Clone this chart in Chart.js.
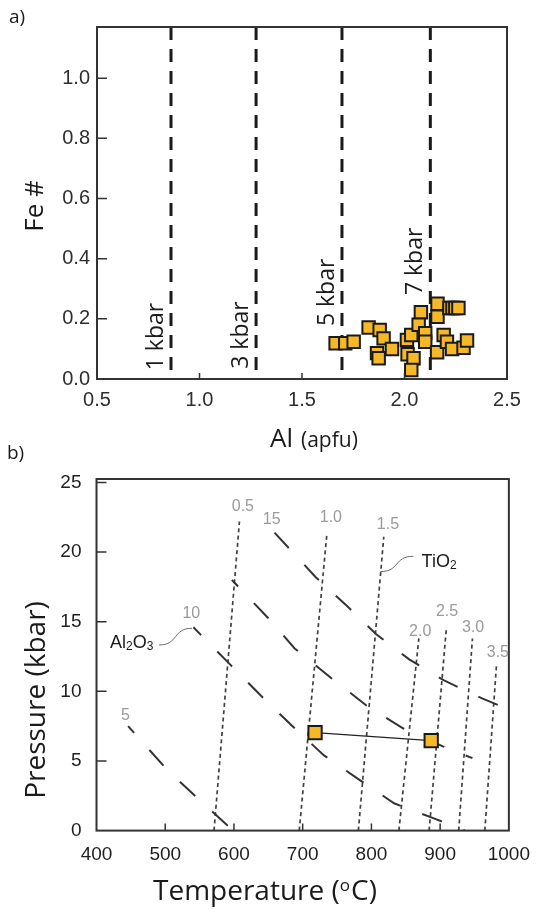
<!DOCTYPE html>
<html>
<head>
<meta charset="utf-8">
<title>Amphibole Al - Fe# and P-T estimates</title>
<script src="https://cdn.jsdelivr.net/npm/chart.js@4.4.1/dist/chart.umd.min.js"></script>
<style>
    html, body { margin: 0; padding: 0; background: #fff; }
    #wrap { position: relative; width: 543px; height: 909px; }
    #wrap canvas { position: absolute; left: 0; top: 0; }
</style>
</head>
<body>
<div id="wrap">
    <canvas id="chartA" width="543" height="909"></canvas>
    <canvas id="chartB" width="543" height="909"></canvas>
</div>
<script>
// ========== data ==========

// a) amphibole analyses: Al (apfu) vs Fe#
const AL_APFU = [1.664, 1.711, 1.752, 1.825, 1.879, 1.898, 1.866, 1.874, 1.939, 2.012,
                 2.033, 2.015, 2.044, 2.033, 2.080, 2.069, 2.101, 2.101, 2.161, 2.161,
                 2.219, 2.234, 2.248, 2.263, 2.159, 2.191, 2.207, 2.232, 2.288, 2.305];
const FE_NUM = [0.119, 0.119, 0.124, 0.171, 0.163, 0.135, 0.086, 0.069, 0.100, 0.130,
                0.146, 0.082, 0.069, 0.030, 0.222, 0.180, 0.152, 0.124, 0.250, 0.207,
                0.236, 0.236, 0.236, 0.236, 0.089, 0.146, 0.124, 0.100, 0.104, 0.128];

// isobars (Al-in-hornblende)
const KBAR_AL = [0.861, 1.276, 1.695, 2.126];
const KBAR_LABELS = ['1 kbar', '3 kbar', '5 kbar', '7 kbar'];
const KBAR_LABEL_FE = [0.141, 0.146, 0.288, 0.391];

const AL_TICKS = [0.5, 1.0, 1.5, 2.0, 2.5];
const FE_TICKS = [0, 0.2, 0.4, 0.6, 0.8, 1.0];
const FE_MAX = 1.17;

// b) P-T grid
const TEMP_TICKS = [400, 500, 600, 700, 800, 900, 1000];
const PRES_TICKS = [0, 5, 10, 15, 20, 25];
const PRES_MAX = 25.25;

// TiO2 isopleths (wt%), straight from P = 0 to their upper end
const TIO2_LABELS = ['0.5', '1.0', '1.5', '2.0', '2.5', '3.0', '3.5'];
const TIO2_T_BASE = [571, 695, 781, 840, 884, 927, 965];
const TIO2_T_TOP = [608, 735, 818, 869, 909, 947, 982];
const TIO2_P_TOP = [22.2, 21.2, 21.1, 13.8, 14.5, 13.8, 11.9];
const TIO2_LABEL_T = [613, 741, 824, 871, 910, 948, 984];
const TIO2_LABEL_P = [23.3, 22.5, 22.0, 14.3, 15.7, 14.6, 12.8];

// Al2O3 isopleths (wt%)
const AL2O3_5_T = [446, 503, 555, 599];
const AL2O3_5_P = [7.5, 4.35, 1.96, 0];
const AL2O3_10_T = [541, 595, 639, 683, 731, 781, 833, 891, 936];
const AL2O3_10_P = [14.6, 11.9, 9.7, 7.6, 5.4, 3.7, 1.96, 0.88, 0];
const AL2O3_12_T = [597, 650, 688, 743, 795, 846, 904, 947];
const AL2O3_12_P = [18.0, 15.25, 13.1, 10.9, 8.9, 7.35, 6.05, 5.2];
const AL2O3_15_T = [659, 719, 763, 807, 855, 905, 961, 1000];
const AL2O3_15_P = [21.4, 18.2, 16.2, 14.1, 12.3, 10.8, 9.5, 8.7];
const AL2O3_LABELS = ['5', '10', '15'];
const AL2O3_LABEL_T = [442, 538, 655];
const AL2O3_LABEL_P = [8.25, 15.6, 22.3];

// estimated crystallisation conditions
const PT_T = [718, 887];
const PT_P = [7.03, 6.46];

// ========== styles ==========
const TICK_FONT = "'Liberation Sans', Arial, sans-serif";
const TITLE_FONT = "'Open Sans', 'Noto Sans', sans-serif";
const SQUARE_FILL = '#F6B825';
const INK = '#1a1a1a';

const pts = (xs, ys) => xs.map((v, i) => ({ x: v, y: ys[i] }));

// box round the plot + short ticks pointing inwards
function frameTicks(xLen, yLen) {
    return {
        id: 'frameTicks',
        afterDatasetsDraw(chart) {
            const { ctx, chartArea: { left, top, right, bottom }, scales: { x, y } } = chart;
            ctx.save();
            ctx.strokeStyle = '#333';
            ctx.lineWidth = 1.5;
            ctx.beginPath();
            x.ticks.forEach(t => {
                const px = x.getPixelForValue(t.value);
                if (px <= left + 1 || px >= right - 1) return;
                ctx.moveTo(px, bottom);
                ctx.lineTo(px, bottom - xLen);
            });
            y.ticks.forEach(t => {
                const py = y.getPixelForValue(t.value);
                if (py <= top + 1 || py >= bottom - 1) return;
                ctx.moveTo(left, py);
                ctx.lineTo(left + yLen, py);
            });
            ctx.stroke();
            ctx.lineWidth = 2;
            ctx.strokeRect(left, top, right - left, bottom - top);
            ctx.restore();
        }
    };
}

function scaleOpts(min, max, tickValues, fmt, font, color, padding, fit) {
    return {
        type: 'linear',
        min: min,
        max: max,
        afterBuildTicks: s => { s.ticks = tickValues.map(value => ({ value })); },
        afterFit: fit,
        grid: { display: false, drawTicks: false },
        border: { display: false },
        ticks: {
            padding: padding,
            autoSkip: false,
            maxRotation: 0,
            color: color,
            font: { family: TICK_FONT, size: font },
            callback: fmt
        }
    };
}

// ========== a) Al vs Fe# ==========
const panelAText = {
    id: 'panelAText',
    afterDraw(chart) {
        const { ctx, scales: { x, y } } = chart;
        ctx.save();
        ctx.fillStyle = INK;
        ctx.textBaseline = 'middle';

        ctx.font = '19px ' + TITLE_FONT;
        ctx.textAlign = 'left';
        ctx.fillText('a)', 9, 18);

        // isobar names, written upwards beside each line
        ctx.font = '23px ' + TITLE_FONT;
        ctx.textAlign = 'center';
        KBAR_AL.forEach((v, i) => {
            ctx.save();
            ctx.translate(x.getPixelForValue(v) - 15, y.getPixelForValue(KBAR_LABEL_FE[i]));
            ctx.rotate(-Math.PI / 2);
            ctx.fillText(KBAR_LABELS[i], 0, 0);
            ctx.restore();
        });

        // y title
        ctx.save();
        ctx.font = '26px ' + TITLE_FONT;
        ctx.translate(36, 206);
        ctx.rotate(-Math.PI / 2);
        ctx.fillText('Fe #', 0, 0);
        ctx.restore();

        // x title: big element symbol, smaller unit
        ctx.textBaseline = 'alphabetic';
        ctx.font = '26px ' + TITLE_FONT;
        ctx.textAlign = 'right';
        ctx.fillText('Al', 293, 447);
        ctx.font = '21px ' + TITLE_FONT;
        ctx.textAlign = 'left';
        ctx.fillText('(apfu)', 301, 447);
        ctx.restore();
    }
};

const isobarSets = KBAR_AL.map(v => ({
    type: 'line',
    data: [{ x: v, y: FE_MAX }, { x: v, y: 0 }],
    showLine: true,
    borderColor: '#1a1a1a',
    borderWidth: 3,
    borderDash: [13, 9],
    pointRadius: 0,
    order: 2
}));

new Chart(document.getElementById('chartA'), {
    type: 'scatter',
    data: {
        datasets: [{
            data: pts(AL_APFU, FE_NUM),
            pointStyle: 'rect',
            pointRadius: 8.8,
            pointBackgroundColor: SQUARE_FILL,
            pointBorderColor: '#1a1a1a',
            pointBorderWidth: 2,
            order: 0
        }, ...isobarSets]
    },
    options: {
        responsive: false,
        devicePixelRatio: 1,
        animation: false,
        events: [],
        layout: { padding: { top: 27, right: 36, bottom: 909 - 379 - 40, left: 0 } },
        scales: {
            x: scaleOpts(0.5, 2.5, AL_TICKS, v => v.toFixed(1), 20, '#2e2e2e', 9, s => { s.height = 40; }),
            y: scaleOpts(0, FE_MAX, FE_TICKS, v => v.toFixed(1), 20, '#2e2e2e', 7, s => { s.width = 97; })
        },
        plugins: { legend: { display: false }, tooltip: { enabled: false } }
    },
    plugins: [frameTicks(6, 10), panelAText]
});

// ========== b) P-T ==========
function drawFormula(ctx, parts, x, midY) {
    const base = midY + 18 * 0.36;
    let cx = x;
    parts.forEach(([txt, sub]) => {
        ctx.font = (sub ? '12px ' : '18px ') + TICK_FONT;
        ctx.fillText(txt, cx, sub ? base + 2 : base);
        cx += ctx.measureText(txt).width;
    });
}

function leader(ctx, x0, y0, x1, y1) {
    const dx = x1 - x0;
    ctx.beginPath();
    ctx.moveTo(x0, y0);
    ctx.bezierCurveTo(x0 + dx * 0.6, y0, x0 + dx * 0.4, y1, x1, y1);
    ctx.stroke();
}

const panelBText = {
    id: 'panelBText',
    afterDraw(chart) {
        const { ctx, scales: { x, y } } = chart;
        const X = v => x.getPixelForValue(v);
        const Y = v => y.getPixelForValue(v);
        ctx.save();

        // isopleth values
        ctx.fillStyle = '#9a9a9a';
        ctx.font = '16px ' + TICK_FONT;
        ctx.textAlign = 'center';
        ctx.textBaseline = 'middle';
        TIO2_LABELS.forEach((t, i) => ctx.fillText(t, X(TIO2_LABEL_T[i]), Y(TIO2_LABEL_P[i])));
        AL2O3_LABELS.forEach((t, i) => ctx.fillText(t, X(AL2O3_LABEL_T[i]), Y(AL2O3_LABEL_P[i])));

        // leaders to the oxide names
        ctx.strokeStyle = '#6a6a6a';
        ctx.lineWidth = 1;
        leader(ctx, X(813), Y(18.6), X(861), Y(19.7));
        leader(ctx, X(491), Y(13.33), X(539), Y(14.53));

        ctx.fillStyle = INK;
        ctx.textAlign = 'left';
        ctx.textBaseline = 'alphabetic';
        drawFormula(ctx, [['TiO', false], ['2', true]], X(873), Y(19.4));
        drawFormula(ctx, [['Al', false], ['2', true], ['O', false], ['3', true]], X(419.7), Y(13.57));

        // panel letter
        ctx.font = '19px ' + TITLE_FONT;
        ctx.textBaseline = 'middle';
        ctx.fillText('b)', 7, 454);

        // y title
        ctx.save();
        ctx.font = '28px ' + TITLE_FONT;
        ctx.textAlign = 'center';
        ctx.translate(37, 700);
        ctx.rotate(-Math.PI / 2);
        ctx.fillText('Pressure (kbar)', 0, 0);
        ctx.restore();

        // x title with raised small o
        ctx.textBaseline = 'alphabetic';
        let cx = 153;
        ctx.font = '28px ' + TITLE_FONT;
        ctx.fillText('Temperature (', cx, 900);
        cx += ctx.measureText('Temperature (').width;
        ctx.font = '17px ' + TITLE_FONT;
        ctx.fillText('o', cx, 891);
        cx += ctx.measureText('o').width + 1;
        ctx.font = '28px ' + TITLE_FONT;
        ctx.fillText('C)', cx, 900);
        ctx.restore();
    }
};

const tio2Sets = TIO2_LABELS.map((_, i) => ({
    type: 'line',
    data: [{ x: TIO2_T_BASE[i], y: 0 }, { x: TIO2_T_TOP[i], y: TIO2_P_TOP[i] }],
    showLine: true,
    borderColor: '#404040',
    borderWidth: 1.7,
    borderDash: [4, 3.3],
    pointRadius: 0,
    order: 2
}));

const al2o3Line = (xs, ys, offset) => ({
    type: 'line',
    data: pts(xs, ys),
    showLine: true,
    borderColor: '#333',
    borderWidth: 2,
    borderDash: [21, 23],
    borderDashOffset: offset,
    pointRadius: 0,
    order: 1
});

new Chart(document.getElementById('chartB'), {
    type: 'scatter',
    data: {
        datasets: [{
            type: 'line',
            data: pts(PT_T, PT_P),
            showLine: true,
            borderColor: '#222',
            borderWidth: 1.2,
            pointStyle: 'rect',
            pointRadius: 9.4,
            pointBackgroundColor: SQUARE_FILL,
            pointBorderColor: '#1a1a1a',
            pointBorderWidth: 2,
            order: 0
        },
            al2o3Line(AL2O3_5_T, AL2O3_5_P, 12),
            al2o3Line(AL2O3_10_T, AL2O3_10_P, 10),
            al2o3Line(AL2O3_12_T, AL2O3_12_P, 12),
            al2o3Line(AL2O3_15_T, AL2O3_15_P, 0),
            ...tio2Sets
        ]
    },
    options: {
        responsive: false,
        devicePixelRatio: 1,
        animation: false,
        events: [],
        layout: { padding: { top: 479, right: 27, bottom: 909 - 830.6 - 40, left: 0 } },
        scales: {
            x: scaleOpts(400, 1000, TEMP_TICKS, v => String(v), 19, '#1e1e1e', 13, s => { s.height = 40; }),
            y: scaleOpts(0, PRES_MAX, PRES_TICKS, v => String(v), 19, '#1e1e1e', 15, s => { s.width = 96.5; })
        },
        plugins: { legend: { display: false }, tooltip: { enabled: false } }
    },
    plugins: [frameTicks(7, 10), panelBText]
});
</script>
</body>
</html>
